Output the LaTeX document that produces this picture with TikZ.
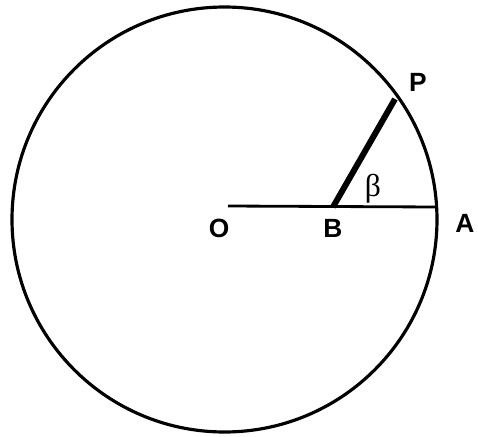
\documentclass[tikz,border=0pt]{standalone}
\usepackage{fontspec}
\setsansfont{Liberation Sans}
\newfontfamily\greekfont{Liberation Serif}
\usepackage{tikz}
\usetikzlibrary{positioning,calc}
\tikzset{rim/.style={line width=1.8pt},seg/.style={line width=1.6pt},spoke/.style={line width=3.4pt},lab/.style={font=\sffamily\bfseries\fontsize{15}{15}\selectfont,inner sep=1pt}}
\begin{document}
\begin{tikzpicture}[x=0.02cm,y=-0.02cm]
\useasboundingbox (0,0) rectangle (478,437);
\draw[rim] (224.5,219.5) circle [radius=212.5];
\coordinate (o) at (228,206);
\coordinate (a) at (436,207);
\coordinate (b) at (333,207);
\coordinate (p) at (395,99);
\draw[seg] (o) -- (a);
\draw[spoke] (b) -- (p);
\node[lab] (ol) at (219,228) {O};
\node[lab] (bl) at (333,228) {B};
\node[lab] (al) at (465,223) {A};
\node[lab] (pl) at (418,82) {P};
\node[font=\greekfont\fontsize{18}{18}\selectfont,inner sep=1pt] (beta) at (373,189) {β};
\end{tikzpicture}
\end{document}
